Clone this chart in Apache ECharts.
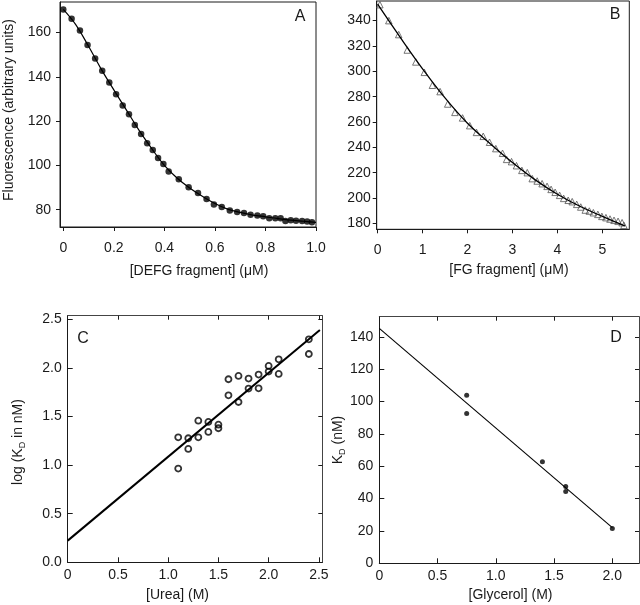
<!DOCTYPE html>
<html>
<head>
<meta charset="utf-8">
<script src="https://cdn.jsdelivr.net/npm/echarts@6/dist/echarts.min.js"></script>
<style>
  html, body { margin: 0; padding: 0; background: #fff; }
  #main { width: 640px; height: 605px; }
</style>
</head>
<body>
<div id="main"></div>
<script>
// Panel A: DEFG fragment titration
var defgConc = [0, 0.033, 0.066, 0.096, 0.126, 0.154, 0.182, 0.209, 0.235, 0.26, 0.283, 0.308, 0.332, 0.354, 0.375, 0.396, 0.417, 0.457, 0.496, 0.533, 0.567, 0.596, 0.627, 0.659, 0.688, 0.715, 0.741, 0.768, 0.791, 0.815, 0.839, 0.86, 0.879, 0.9, 0.921, 0.945, 0.965, 0.984];
var defgFluor = [170.4, 166.2, 160.9, 154.4, 148.3, 142.7, 137.5, 132.2, 127.1, 123.1, 118.3, 114.2, 110.0, 107.0, 103.4, 100.6, 97.3, 93.8, 90.2, 87.5, 84.8, 82.4, 81.2, 79.7, 79.0, 78.5, 77.7, 77.4, 77.0, 76.2, 76.2, 76.1, 74.9, 75.2, 75.0, 74.9, 74.7, 74.3];
var fitA_x = [0, 0.05, 0.1, 0.15, 0.2, 0.25, 0.3, 0.35, 0.4, 0.45, 0.5, 0.55, 0.6, 0.65, 0.7, 0.75, 0.8, 0.85, 0.9, 0.95, 1.0];
var fitA_y = [170.5, 163.5, 153.8, 143.5, 134.1, 125.0, 115.8, 107.6, 100.0, 94.3, 89.8, 86.1, 82.8, 80.3, 78.8, 77.6, 76.8, 76.0, 75.3, 74.8, 74.3];

// Panel B: FG fragment titration
var fgConc = [0.05, 0.25, 0.47, 0.66, 0.85, 1.04, 1.22, 1.39, 1.56, 1.72, 1.89, 2.05, 2.2, 2.35, 2.49, 2.63, 2.78, 2.87, 2.98, 3.09, 3.21, 3.33, 3.44, 3.55, 3.66, 3.77, 3.86, 3.95, 4.05, 4.14, 4.24, 4.33, 4.43, 4.52, 4.62, 4.71, 4.8, 4.9, 4.99, 5.08, 5.17, 5.26, 5.35, 5.44, 5.48];
var fgFluor = [352.6, 340, 329, 316.8, 307.4, 299.2, 289, 284, 274.2, 267.6, 263.2, 257.1, 251.8, 248.7, 244, 239, 235.3, 230.5, 228.7, 225.5, 221.8, 220, 215.3, 213.4, 211.3, 209.2, 206.8, 204.5, 202.1, 199.7, 198.2, 197.1, 195, 192.9, 190.5, 189.7, 188.4, 187.1, 185.5, 184.5, 183.4, 182.4, 181.6, 180.5, 178.4];
var fitB_x = [0, 0.5, 1, 1.5, 2, 2.5, 3, 3.5, 4, 4.5, 5, 5.5];
var fitB_y = [353, 327, 302, 279, 259, 243, 228, 214.5, 203, 193.5, 185.5, 178];

// Panel C: urea dependence
var ureaConc = [1.1, 1.1, 1.2, 1.2, 1.3, 1.3, 1.4, 1.4, 1.5, 1.5, 1.6, 1.6, 1.7, 1.7, 1.8, 1.8, 1.9, 1.9, 2.0, 2.0, 2.1, 2.1, 2.4, 2.4];
var logKd = [1.286, 0.964, 1.276, 1.166, 1.457, 1.286, 1.444, 1.341, 1.416, 1.379, 1.883, 1.718, 1.917, 1.649, 1.89, 1.787, 1.931, 1.79, 2.02, 1.962, 2.088, 1.938, 2.294, 2.143];
var fitC_x = [0, 2.51];
var fitC_y = [0.223, 2.39];

// Panel D: glycerol dependence
var glycerolConc = [0.75, 0.75, 1.4, 1.6, 1.6, 2.0];
var kdNm = [103.8, 92.5, 62.7, 47.4, 44.3, 21.5];
var fitD_x = [0, 2.0];
var fitD_y = [145.2, 22];

// tick values and labels
var ticksA_x = [0, 0.2, 0.4, 0.6, 0.8, 1.0];
var labelsA_x = ['0', '0.2', '0.4', '0.6', '0.8', '1.0'];
var ticksA_y = [80, 100, 120, 140, 160];
var labelsA_y = ['80', '100', '120', '140', '160'];
var ticksB_x = [0, 1, 2, 3, 4, 5];
var labelsB_x = ['0', '1', '2', '3', '4', '5'];
var ticksB_y = [180, 200, 220, 240, 260, 280, 300, 320, 340];
var labelsB_y = ['180', '200', '220', '240', '260', '280', '300', '320', '340'];
var ticksC_x = [0, 0.5, 1.0, 1.5, 2.0, 2.5];
var labelsC_x = ['0', '0.5', '1.0', '1.5', '2.0', '2.5'];
var ticksC_y = [0, 0.5, 1.0, 1.5, 2.0, 2.5];
var labelsC_y = ['0.0', '0.5', '1.0', '1.5', '2.0', '2.5'];
var ticksD_x = [0, 0.5, 1.0, 1.5, 2.0];
var labelsD_x = ['0', '0.5', '1.0', '1.5', '2.0'];
var ticksD_y = [0, 20, 40, 60, 80, 100, 120, 140];
var labelsD_y = ['0', '20', '40', '60', '80', '100', '120', '140'];

var FONT = '"Liberation Sans", Arial, sans-serif';
var INK = '#1a1a1a';

function zip(xs, ys) { return xs.map(function (x, i) { return [x, ys[i]]; }); }

function labelFor(ticks, labels) {
  return function (v) {
    for (var i = 0; i < ticks.length; i++) {
      if (Math.abs(ticks[i] - v) < 1e-9) return labels[i];
    }
    return '';
  };
}

function mainAxis(grid, min, max, ticks, labels, opts) {
  return {
    type: 'value', gridIndex: grid, min: min, max: max,
    position: opts.position,
    axisLine: { show: true, onZero: false, lineStyle: { color: INK, width: 1 } },
    axisTick: { show: true, inside: opts.inside, length: opts.tickLen || 4, customValues: ticks, lineStyle: { color: INK, width: 1 } },
    axisLabel: { customValues: ticks, formatter: labelFor(ticks, labels), margin: opts.margin, fontSize: 14, color: INK, fontFamily: FONT },
    splitLine: { show: false }
  };
}

function mirrorAxis(grid, min, max, ticks, position) {
  return {
    type: 'value', gridIndex: grid, min: min, max: max, position: position,
    axisLine: { show: true, onZero: false, lineStyle: { color: '#444', width: 1 } },
    axisTick: { show: true, inside: true, length: 4, customValues: ticks, lineStyle: { color: INK, width: 1 } },
    axisLabel: { show: false },
    splitLine: { show: false }
  };
}

var myChart = echarts.init(document.getElementById('main'));

myChart.setOption({
  animation: false,
  backgroundColor: '#fff',
  grid: [
    { left: 60, top: 2, width: 256, height: 225, show: true, borderColor: INK, borderWidth: 1, outerBoundsMode: 'none' },
    { left: 376.7, top: 1, width: 252.6, height: 228.3, show: true, borderColor: INK, borderWidth: 1, outerBoundsMode: 'none' },
    { left: 67.7, top: 315.7, width: 254.6, height: 246.6, outerBoundsMode: 'none' },
    { left: 379.3, top: 316.7, width: 259.7, height: 246.6, outerBoundsMode: 'none' }
  ],
  xAxis: [
    mainAxis(0, -0.013, 1.0, ticksA_x, labelsA_x, { position: 'bottom', inside: false, margin: 14 }),
    mainAxis(1, -0.02, 5.6, ticksB_x, labelsB_x, { position: 'bottom', inside: false, margin: 14 }),
    mainAxis(2, 0, 2.534, ticksC_x, labelsC_x, { position: 'bottom', inside: true, margin: 6, tickLen: 5 }),
    mirrorAxis(2, 0, 2.534, ticksC_x, 'top'),
    mainAxis(3, 0, 2.229, ticksD_x, labelsD_x, { position: 'bottom', inside: true, margin: 6, tickLen: 5 }),
    mirrorAxis(3, 0, 2.229, ticksD_x, 'top')
  ],
  yAxis: [
    mainAxis(0, 72.2, 173.8, ticksA_y, labelsA_y, { position: 'left', inside: false, margin: 9 }),
    mainAxis(1, 175.3, 355.5, ticksB_y, labelsB_y, { position: 'left', inside: false, margin: 6 }),
    mainAxis(2, 0, 2.537, ticksC_y, labelsC_y, { position: 'left', inside: true, margin: 6, tickLen: 5 }),
    mirrorAxis(2, 0, 2.537, ticksC_y, 'right'),
    mainAxis(3, 0, 152.4, ticksD_y, labelsD_y, { position: 'left', inside: true, margin: 6, tickLen: 5 }),
    mirrorAxis(3, 0, 152.4, ticksD_y, 'right')
  ],
  series: [
    {
      type: 'line', xAxisIndex: 0, yAxisIndex: 0, data: zip(fitA_x, fitA_y),
      smooth: 0.4, showSymbol: false, silent: true,
      lineStyle: { color: '#000', width: 1.2 }
    },
    {
      type: 'scatter', xAxisIndex: 0, yAxisIndex: 0, data: zip(defgConc, defgFluor),
      symbol: 'circle', symbolSize: 6.5, itemStyle: { color: '#000' }
    },
    {
      type: 'line', xAxisIndex: 1, yAxisIndex: 1, data: zip(fitB_x, fitB_y),
      smooth: 0.4, showSymbol: false, silent: true,
      lineStyle: { color: '#000', width: 1.3 }
    },
    {
      type: 'scatter', xAxisIndex: 1, yAxisIndex: 1, data: zip(fgConc, fgFluor),
      symbol: 'triangle', symbolSize: 6.5,
      itemStyle: { color: 'transparent', borderColor: '#555', borderWidth: 1 }
    },
    {
      type: 'line', xAxisIndex: 2, yAxisIndex: 2, data: zip(fitC_x, fitC_y),
      showSymbol: false, silent: true,
      lineStyle: { color: '#000', width: 2 }
    },
    {
      type: 'scatter', xAxisIndex: 2, yAxisIndex: 2, data: zip(ureaConc, logKd),
      symbol: 'circle', symbolSize: 6,
      itemStyle: { color: 'transparent', borderColor: '#000', borderWidth: 1.8 }
    },
    {
      type: 'line', xAxisIndex: 4, yAxisIndex: 4, data: zip(fitD_x, fitD_y),
      showSymbol: false, silent: true,
      lineStyle: { color: '#000', width: 1.1 }
    },
    {
      type: 'scatter', xAxisIndex: 4, yAxisIndex: 4, data: zip(glycerolConc, kdNm),
      symbol: 'circle', symbolSize: 5, itemStyle: { color: '#000' }
    }
  ],
  graphic: [
    // panel letters
    { type: 'text', x: 300, y: 17, style: { text: 'A', font: '16px ' + FONT, fill: INK, textAlign: 'center', textVerticalAlign: 'middle' } },
    { type: 'text', x: 615, y: 15, style: { text: 'B', font: '16px ' + FONT, fill: INK, textAlign: 'center', textVerticalAlign: 'middle' } },
    { type: 'text', x: 83, y: 339, style: { text: 'C', font: '16px ' + FONT, fill: INK, textAlign: 'center', textVerticalAlign: 'middle' } },
    { type: 'text', x: 616, y: 338, style: { text: 'D', font: '16px ' + FONT, fill: INK, textAlign: 'center', textVerticalAlign: 'middle' } },
    // x axis titles
    { type: 'text', x: 199, y: 271, style: { text: '[DEFG fragment] (\u03bcM)', font: '14px ' + FONT, fill: INK, textAlign: 'center', textVerticalAlign: 'middle' } },
    { type: 'text', x: 509, y: 270, style: { text: '[FG fragment] (\u03bcM)', font: '14px ' + FONT, fill: INK, textAlign: 'center', textVerticalAlign: 'middle' } },
    { type: 'text', x: 177.5, y: 595, style: { text: '[Urea] (M)', font: '14px ' + FONT, fill: INK, textAlign: 'center', textVerticalAlign: 'middle' } },
    { type: 'text', x: 510.5, y: 595, style: { text: '[Glycerol] (M)', font: '14px ' + FONT, fill: INK, textAlign: 'center', textVerticalAlign: 'middle' } },
    // y axis titles
    { type: 'text', x: 9, y: 110, rotation: Math.PI / 2, style: { text: 'Fluorescence (arbitrary units)', font: '14px ' + FONT, fill: INK, textAlign: 'center', textVerticalAlign: 'middle' } },
    {
      type: 'text', x: 18, y: 442, rotation: Math.PI / 2,
      style: {
        text: '{a|log (K}{s|D}{a| in nM)}', fill: INK, textAlign: 'center', textVerticalAlign: 'middle',
        rich: {
          a: { fontSize: 14, fontFamily: FONT, lineHeight: 18, fill: INK },
          s: { fontSize: 9, fontFamily: FONT, lineHeight: 9, verticalAlign: 'bottom', fill: INK }
        }
      }
    },
    {
      type: 'text', x: 338, y: 440, rotation: Math.PI / 2,
      style: {
        text: '{a|K}{s|D}{a| (nM)}', fill: INK, textAlign: 'center', textVerticalAlign: 'middle',
        rich: {
          a: { fontSize: 14, fontFamily: FONT, lineHeight: 18, fill: INK },
          s: { fontSize: 9, fontFamily: FONT, lineHeight: 9, verticalAlign: 'bottom', fill: INK }
        }
      }
    }
  ]
});
</script>
</body>
</html>
